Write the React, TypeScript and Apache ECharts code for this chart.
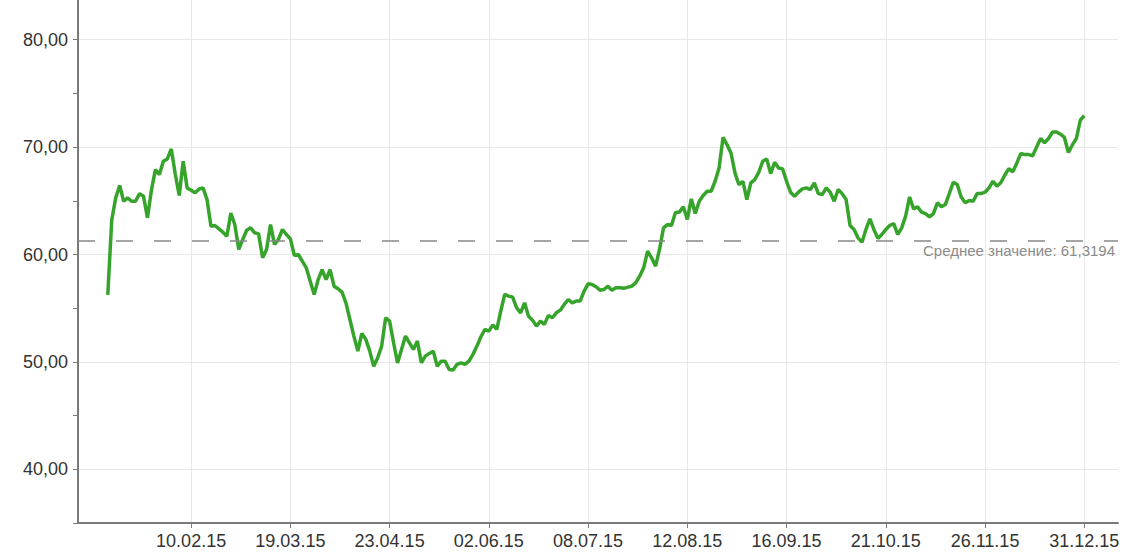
import React, { useEffect, useRef } from 'react';
import * as echarts from 'echarts';

// X tick labels (one every 25 points, last on the final point)
const tickDates = ['10.02.15', '19.03.15', '23.04.15', '02.06.15', '08.07.15', '12.08.15', '16.09.15', '21.10.15', '26.11.15', '31.12.15'];
const firstTickIndex = 21;
const tickStep = 25;

// Y tick values (labelled)
const yLabelled = [40, 50, 60, 70, 80];

// USD rate, 2015
const rates = [
  56.24, 63.2, 65.27, 66.42, 64.96, 65.27, 64.96, 64.96, 65.67, 65.43,
  63.41, 66.0, 67.9, 67.44, 68.68, 68.9, 69.83, 67.5, 65.49, 68.68,
  66.2, 65.98, 65.74, 66.1, 66.2, 65.12, 62.63, 62.7, 62.39, 62.08,
  61.7, 63.85, 62.79, 60.47, 61.4, 62.26, 62.48, 62.02, 61.92, 59.69,
  60.47, 62.79, 60.93, 61.4, 62.33, 61.86, 61.46, 59.91, 60.0, 59.38,
  58.76, 57.52, 56.28, 57.67, 58.6, 57.67, 58.6, 57.05, 56.81, 56.5,
  55.5, 53.95, 52.4, 51.0, 52.65, 52.1, 51.0, 49.6, 50.39, 51.47,
  54.1, 53.8, 51.78, 49.9, 51.16, 52.4, 51.78, 51.16, 51.94, 49.92,
  50.54, 50.79, 51.0, 49.6, 50.07, 50.07, 49.3, 49.24, 49.77, 49.92,
  49.77, 50.07, 50.7, 51.47, 52.34, 53.02, 52.87, 53.45, 53.02, 54.73,
  56.28, 56.12, 56.03, 55.04, 54.57, 55.5, 54.26, 53.89, 53.33, 53.8,
  53.49, 54.33, 54.11, 54.57, 54.82, 55.35, 55.81, 55.5, 55.66, 55.66,
  56.59, 57.27, 57.21, 57.0, 56.68, 56.74, 57.05, 56.68, 56.9, 56.9,
  56.85, 56.96, 57.05, 57.36, 57.98, 58.76, 60.31, 59.69, 58.91, 60.47,
  62.48, 62.79, 62.7, 63.88, 63.95, 64.44, 63.26, 65.18, 63.81, 64.96,
  65.49, 65.89, 65.89, 66.82, 68.06, 70.9, 70.23, 69.46, 67.6, 66.51,
  66.82, 65.12, 66.67, 66.98, 67.66, 68.68, 68.9, 67.53, 68.59, 68.06,
  67.97, 66.82, 65.8, 65.43, 65.8, 66.11, 66.2, 66.05, 66.67, 65.67,
  65.58, 66.2, 65.8, 64.96, 66.05, 65.67, 65.12, 62.7, 62.33, 61.55,
  61.15, 62.33, 63.32, 62.33, 61.5, 61.86, 62.33, 62.7, 62.88, 61.86,
  62.48, 63.57, 65.36, 64.25, 64.44, 63.95, 63.81, 63.5, 63.81, 64.81,
  64.44, 64.65, 65.67, 66.73, 66.51, 65.36, 64.81, 65.02, 64.96, 65.67,
  65.67, 65.8, 66.2, 66.82, 66.36, 66.7, 67.4, 68.0, 67.7, 68.5,
  69.4, 69.3, 69.3, 69.2, 70.0, 70.8, 70.4, 70.8, 71.4, 71.4,
  71.2, 70.9, 69.5, 70.2, 70.8, 72.5, 72.93,
];

const meanValue = 61.3194;
const meanLabel = 'Среднее значение';

// empty categories on each side of the data
const padBefore = 7;
const padAfter = 8;

const fmt = (v: number) => v.toFixed(2).replace('.', ',');

export default function App() {
  const ref = useRef<HTMLDivElement>(null);

  useEffect(() => {
    if (!ref.current) return;
    const chart = echarts.init(ref.current, undefined, { renderer: 'svg' });

    const dataCats = rates.map((_, i) => {
      const k = (i - firstTickIndex) / tickStep;
      return i >= firstTickIndex && Number.isInteger(k) && k < tickDates.length ? tickDates[k] : '';
    });
    const categories = [
      ...Array(padBefore).fill(''),
      ...dataCats,
      ...Array(padAfter).fill(''),
    ];
    const seriesData = [
      ...Array(padBefore).fill(null),
      ...rates,
      ...Array(padAfter).fill(null),
    ];
    const showCat = (_idx: number, val: string) => val !== '';

    const font = "'Liberation Sans', Arial, sans-serif";

    chart.setOption({
      animation: false,
      grid: { left: 78, right: 22, top: 0, bottom: 31, containLabel: false },
      xAxis: {
        type: 'category',
        data: categories,
        boundaryGap: true,
        axisLine: { show: true, lineStyle: { color: '#7a7a7a', width: 2 } },
        axisTick: { show: true, alignWithLabel: true, interval: showCat, length: 5, lineStyle: { color: '#7a7a7a', width: 1 } },
        axisLabel: { interval: showCat, fontSize: 18, color: '#333', fontFamily: font, margin: 9 },
        splitLine: { show: true, alignWithLabel: true, interval: showCat, lineStyle: { color: '#e8e8e8', width: 1 } },
      },
      yAxis: [
        {
          type: 'value',
          min: 35,
          max: 85,
          interval: 5,
          axisLine: { show: true, lineStyle: { color: '#7a7a7a', width: 2 } },
          axisTick: { show: true, length: 5, lineStyle: { color: '#7a7a7a', width: 1 } },
          axisLabel: {
            fontSize: 18,
            color: '#333',
            fontFamily: font,
            margin: 10,
            formatter: (v: number) => (yLabelled.includes(v) ? fmt(v) : ''),
          },
          splitLine: { show: false },
        },
        {
          type: 'value',
          min: 35,
          max: 85,
          splitNumber: 5,
          axisLine: { show: false },
          axisTick: { show: false },
          axisLabel: { show: false },
          splitLine: { show: true, lineStyle: { color: '#e8e8e8', width: 1 } },
        },
      ],
      series: [
        {
          type: 'line',
          yAxisIndex: 0,
          data: seriesData,
          showSymbol: false,
          symbol: 'none',
          lineStyle: { color: '#36a32b', width: 3.5 },
          itemStyle: { color: '#36a32b' },
          z: 3,
          markLine: {
            silent: true,
            symbol: 'none',
            data: [{ yAxis: meanValue }],
            lineStyle: { type: [17, 21], color: '#888', width: 1.5 },
            label: {
              show: true,
              position: 'insideEndBottom',
              distance: 3,
              fontSize: 15,
              color: '#8c8c8c',
              fontFamily: font,
              formatter: `${meanLabel}: ${String(meanValue).replace('.', ',')}`,
            },
          },
        },
      ],
    });

    return () => chart.dispose();
  }, []);

  // The plot's top edge (value 85) lies 14px above the visible page.
  return (
    <div
      ref={ref}
      style={{ position: 'fixed', left: 0, top: -14, width: 1140, height: 568, background: '#fff' }}
    />
  );
}
